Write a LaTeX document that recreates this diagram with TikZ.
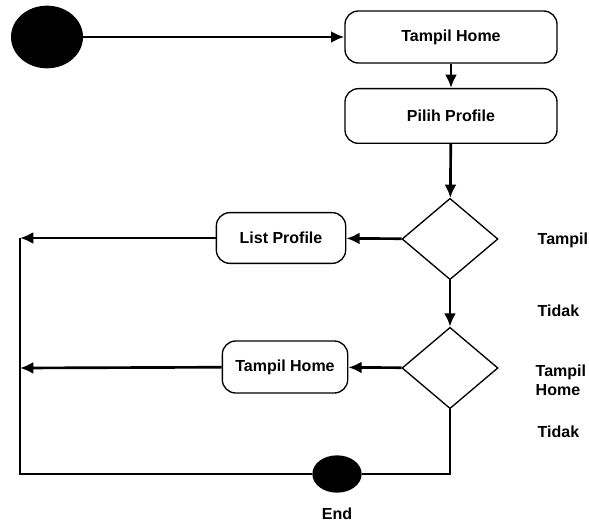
\documentclass[tikz,border=0pt]{standalone}
\usepackage{fontspec}
\setsansfont{Liberation Sans}
\usetikzlibrary{shapes.geometric,arrows.meta}

\begin{document}
\begin{tikzpicture}[
        x=0.75pt, y=-0.75pt,
        action/.style={rectangle, draw, line width=1pt, rounded corners=10pt, fill=white, font=\sffamily\bfseries\fontsize{12}{14}\selectfont},
        decision/.style={diamond, draw, line width=1pt, minimum width=72pt, minimum height=61pt, inner sep=0pt},
        dot/.style={ellipse, fill=black, inner sep=0pt},
        label/.style={font=\sffamily\bfseries\fontsize{12}{14}\selectfont, align=left, anchor=west},
        flow/.style={line width=2pt, -{Latex[length=10pt,width=9pt]}},
        plain/.style={line width=2pt}
    ]
        \useasboundingbox (0,0) rectangle (589,524);
        % start and main actions
        \node[dot, minimum width=54pt, minimum height=47pt] (start) at (47,37) {};
        \node[action, minimum width=159pt, minimum height=39pt] (home1) at (451,37) {Tampil Home};
        \node[action, minimum width=159pt, minimum height=41pt] (pilih) at (451,116) {Pilih Profile};
        \node[decision] (cek1) at (450,239) {};
        \node[decision] (cek2) at (450,368) {};
        \node[action, minimum width=97pt, minimum height=38pt] (list) at (281,238) {List Profile};
        \node[action, minimum width=94pt, minimum height=39pt] (home2) at (285,367) {Tampil Home};
        \node[dot, minimum width=37pt, minimum height=28pt] (end) at (337,474) {};
        % labels
        \node[label] (tampil) at (533,240) {Tampil};
        \node[label] (tidak1) at (533,311) {Tidak};
        \node[label] (tampilhome) at (531,380) {Tampil\\Home};
        \node[label] (tidak2) at (533,432) {Tidak};
        \node[font=\sffamily\bfseries\fontsize{12}{14}\selectfont] (endlabel) at (337,514) {End};
        % left return line
        \coordinate (kiri1) at (20,238);
        \coordinate (kiri2) at (20,368);
        \coordinate (kiri3) at (20,474);
        % connectors
        \draw[flow] (start) -- (home1);
        \draw[flow] (home1) -- (pilih);
        \draw[flow] (pilih) -- (cek1);
        \draw[flow] (cek1) -- (list);
        \draw[flow] (list) -- (kiri1);
        \draw[flow] (cek1) -- (cek2);
        \draw[flow] (cek2) -- (home2);
        \draw[flow] (home2) -- (kiri2);
        \draw[plain] (kiri1) -- (kiri3) -- (end);
        \draw[plain] (cek2.south) |- (end.east);
    \end{tikzpicture}
\end{document}
